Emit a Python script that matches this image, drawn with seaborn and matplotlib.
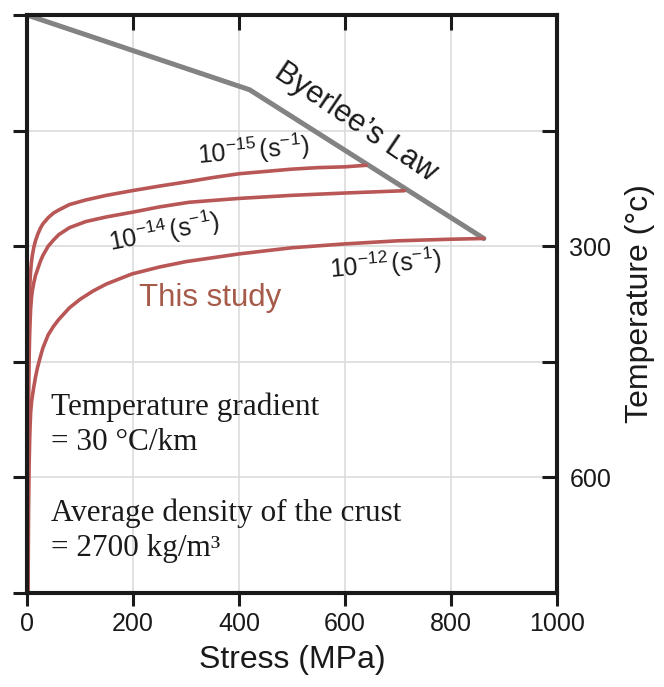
import pandas as pd
import seaborn as sns
import matplotlib.pyplot as plt

# Byerlee's law envelope (stress in MPa, temperature in degC)
byerlee_stress = [0, 420, 862]
byerlee_temp = [0, 97, 290]

# flow-law curves for three strain rates
rate15_stress = [1.5, 2, 2.5, 3, 3.5, 4, 5, 6, 7, 8.5, 10, 13, 16, 20, 25, 30, 40, 50, 60, 80,
                 111, 150, 198, 250, 306, 350, 400, 450, 500, 550, 600, 640]
rate15_temp = [750, 600, 500, 440, 405, 380, 355, 341, 331, 320, 312, 301, 293, 285, 277, 271, 263, 257, 253, 246,
               240, 234, 228, 222, 216, 211, 206, 203, 200, 198, 197, 195]

rate14_stress = [1.5, 2, 2.5, 3, 4, 5, 6, 7, 8.5, 10, 13, 16, 20, 25, 30, 40, 50, 60, 80,
                 111, 150, 198, 250, 306, 400, 500, 600, 712]
rate14_temp = [750, 620, 540, 490, 445, 415, 395, 380, 367, 358, 347, 338, 330, 320, 312, 300, 292, 285, 276,
               268, 262, 256, 249, 243, 238, 234, 231, 228]

rate12_stress = [2, 2.5, 3, 4, 5, 6, 7, 8.5, 10, 13, 16, 20, 25, 30, 40, 50, 60, 80, 100, 125,
                 150, 198, 250, 300, 400, 500, 600, 700, 796, 862]
rate12_temp = [750, 690, 640, 585, 552, 530, 515, 503, 495, 482, 470, 457, 444, 432, 415, 404, 395, 380, 369, 358,
               349, 336, 327, 320, 310, 302, 297, 293, 291, 290]

x_ticks = [0, 200, 400, 600, 800, 1000]
y_ticks = [0, 150, 300, 450, 600, 750]
right_ticks = [150, 300, 450, 600]
right_labels = ['', '300', '', '600']

curve_color = '#b95656'
text_red = '#a65a4a'
ink = '#1a1a1a'

sns.set_style('ticks')
plt.rcParams['font.family'] = ['Liberation Sans', 'DejaVu Sans']
plt.rcParams['mathtext.fontset'] = 'custom'
plt.rcParams['mathtext.rm'] = 'Liberation Sans'
plt.rcParams['mathtext.it'] = 'Liberation Sans:italic'
plt.rcParams['mathtext.bf'] = 'Liberation Sans:bold'
plt.rcParams['text.color'] = ink
plt.rcParams['axes.labelcolor'] = ink

fig = plt.figure(figsize=(6.64, 6.87), dpi=100)
ax = fig.add_axes([27 / 664, 1 - 593 / 687, 530 / 664, 578 / 687])

ax.grid(True, color='#dcdcdc', lw=1.2)
ax.set_axisbelow(True)

byerlee = pd.DataFrame({'stress': byerlee_stress, 'temp': byerlee_temp})
sns.lineplot(data=byerlee, x='stress', y='temp', sort=False, estimator=None,
             color='#838383', lw=3.6, ax=ax)

for xs, ys in [(rate15_stress, rate15_temp), (rate14_stress, rate14_temp),
               (rate12_stress, rate12_temp)]:
    df = pd.DataFrame({'stress': xs, 'temp': ys})
    line = sns.lineplot(data=df, x='stress', y='temp', sort=False, estimator=None,
                        color=curve_color, lw=2.6, ax=ax)
for ln in ax.lines:
    ln.set_solid_joinstyle('round')

ax.set_xlim(0, 1000)
ax.set_ylim(750, 0)
ax.set_xticks(x_ticks)
ax.set_yticks(y_ticks)
ax.set_xlabel('Stress (MPa)', fontsize=23, labelpad=6)
ax.set_ylabel('')
ax.tick_params(axis='x', direction='out', length=9, width=2.2, labelsize=18,
               pad=5, colors=ink)
ax.tick_params(axis='y', direction='out', length=10, width=2.2, labelleft=False,
               colors=ink)

# right axis: inward ticks, only two labels
ax_r = ax.twinx()
ax_r.set_ylim(750, 0)
ax_r.set_yticks(right_ticks, right_labels)
ax_r.tick_params(axis='y', direction='in', length=11, width=2.2, labelsize=18,
                 pad=9, colors=ink)
ax_r.set_ylabel('Temperature (°c)', fontsize=23, labelpad=10)

# top axis: inward ticks, no labels
ax_t = ax.twiny()
ax_t.set_xlim(0, 1000)
ax_t.set_xticks([200, 400, 600, 800])
ax_t.tick_params(axis='x', direction='in', length=11, width=2.2, labeltop=False,
                 colors=ink)

for a in (ax, ax_r, ax_t):
    for sp in a.spines.values():
        sp.set_linewidth(2.9)
        sp.set_color(ink)

# annotations
ax.text(620, 140, 'Byerlee’s Law', fontsize=22, rotation=-34,
        rotation_mode='anchor', ha='center', va='center')
ax.text(428, 176, r'$\mathrm{10^{-15}\,(s^{-1})}$', fontsize=18, rotation=5,
        rotation_mode='anchor', ha='center', va='center')
ax.text(258, 282, r'$\mathrm{10^{-14}\,(s^{-1})}$', fontsize=18, rotation=11,
        rotation_mode='anchor', ha='center', va='center')
ax.text(677, 324, r'$\mathrm{10^{-12}\,(s^{-1})}$', fontsize=18, rotation=5,
        rotation_mode='anchor', ha='center', va='center')
ax.text(345, 367, 'This study', fontsize=22.5, color=text_red,
        ha='center', va='center')

serif = ['Liberation Serif', 'DejaVu Serif']
ax.text(45, 519, 'Temperature gradient', fontsize=22.5, family=serif,
        ha='left', va='baseline')
ax.text(45, 565, '= 30 °C/km', fontsize=22.5, family=serif,
        ha='left', va='baseline')
ax.text(45, 656, 'Average density of the crust', fontsize=22.5, family=serif,
        ha='left', va='baseline')
ax.text(45, 702, '= 2700 kg/m³', fontsize=22.5, family=serif,
        ha='left', va='baseline')

fig.savefig('out.png', dpi=100)
